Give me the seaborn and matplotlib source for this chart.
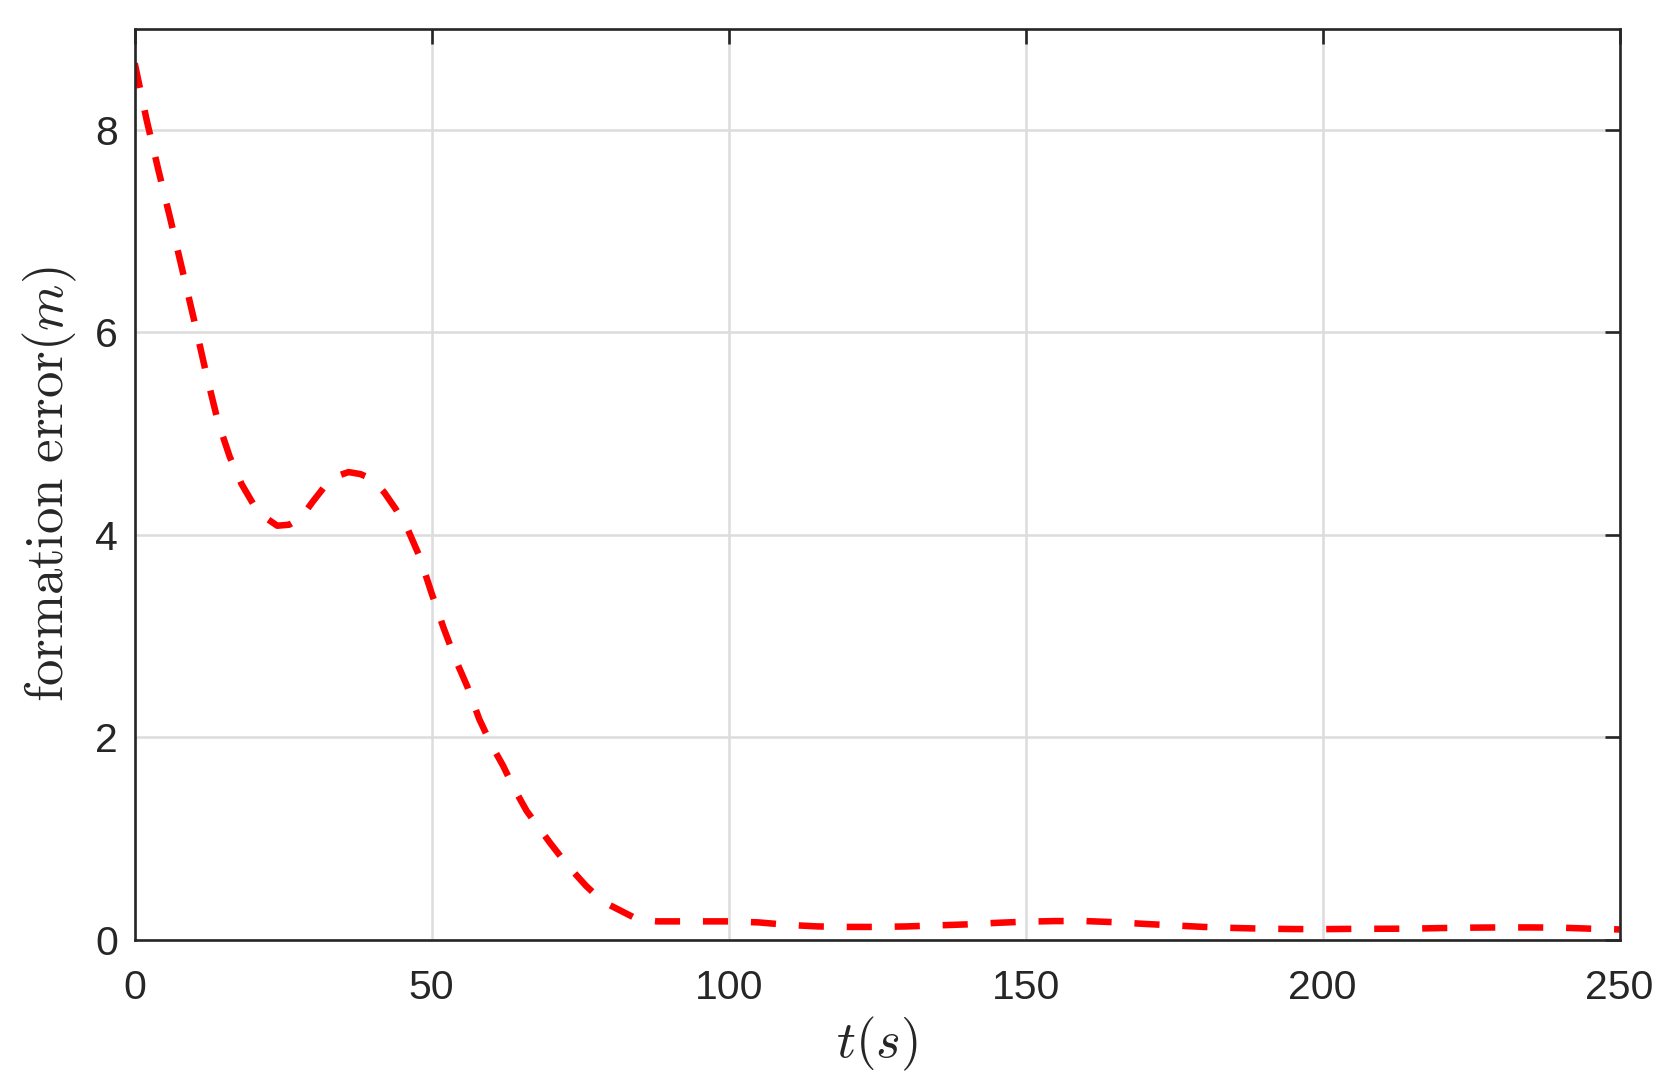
import numpy as np
import pandas as pd
import matplotlib
matplotlib.use("Agg")
import matplotlib.pyplot as plt
import seaborn as sns

# formation error
t_sec = [0, 2, 4, 6, 8, 10, 12, 14, 16, 18, 20, 22, 24, 26, 28, 30, 32, 34, 36, 38,
         40, 42, 44, 46, 48, 50, 52, 54, 56, 58, 60, 62, 64, 66, 68, 70, 72, 74, 76, 78,
         80, 82, 84, 86, 88, 90, 95, 100, 105, 110, 115, 120, 125, 130, 135, 140, 145,
         150, 155, 160, 165, 170, 175, 180, 185, 190, 195, 200, 205, 210, 215, 220, 225,
         230, 235, 240, 245, 250]
err_m = [8.66, 8.10, 7.60, 7.12, 6.62, 6.12, 5.60, 5.12, 4.77, 4.50, 4.30, 4.17, 4.09,
         4.10, 4.17, 4.33, 4.48, 4.58, 4.62, 4.60, 4.55, 4.42, 4.25, 4.05, 3.78, 3.42,
         3.08, 2.77, 2.50, 2.18, 1.93, 1.72, 1.48, 1.27, 1.11, 0.95, 0.80, 0.66, 0.53,
         0.42, 0.34, 0.28, 0.22, 0.19, 0.18, 0.18, 0.18, 0.18, 0.17, 0.145, 0.13, 0.125,
         0.125, 0.13, 0.14, 0.15, 0.165, 0.177, 0.183, 0.183, 0.172, 0.155, 0.14, 0.125,
         0.115, 0.108, 0.104, 0.103, 0.106, 0.107, 0.108, 0.114, 0.118, 0.12, 0.12,
         0.118, 0.108, 0.10]

x_ticks = [0, 50, 100, 150, 200, 250]
y_ticks = [0, 2, 4, 6, 8]

df = pd.DataFrame({"t": t_sec, "err": err_m})

sns.set_theme(style="whitegrid")
plt.rcParams["font.family"] = ["Liberation Sans", "DejaVu Sans"]
plt.rcParams["mathtext.fontset"] = "cm"

dark = "#262626"
fig = plt.figure(figsize=(16.76, 10.9), dpi=100)
ax = fig.add_axes([0.0804, 0.138, 0.8859, 0.8355])

sns.lineplot(data=df, x="t", y="err", ax=ax, color="#ff0000", lw=4.7,
             linestyle=(0, (3.85, 3.5)))

ax.set_xlim(0, 250)
ax.set_ylim(0, 9)
ax.set_xticks(x_ticks)
ax.set_yticks(y_ticks)

ax.grid(True, color="#dcdcdc", lw=1.8)
for side in ["left", "right", "top", "bottom"]:
    ax.spines[side].set_visible(True)
    ax.spines[side].set_color(dark)
    ax.spines[side].set_linewidth(1.9)

ax.tick_params(axis="both", direction="in", length=11, width=1.9, color=dark,
               labelcolor=dark, labelsize=29.5, top=True, right=True)
ax.tick_params(axis="x", pad=21)
ax.tick_params(axis="y", pad=12)

ax.set_xlabel(r"$t(s)$", fontsize=38, color=dark, labelpad=6)
ax.set_ylabel(r"$\mathrm{formation\ error}(m)$", fontsize=38, color=dark, labelpad=12)

fig.savefig("out.png", dpi=100)
